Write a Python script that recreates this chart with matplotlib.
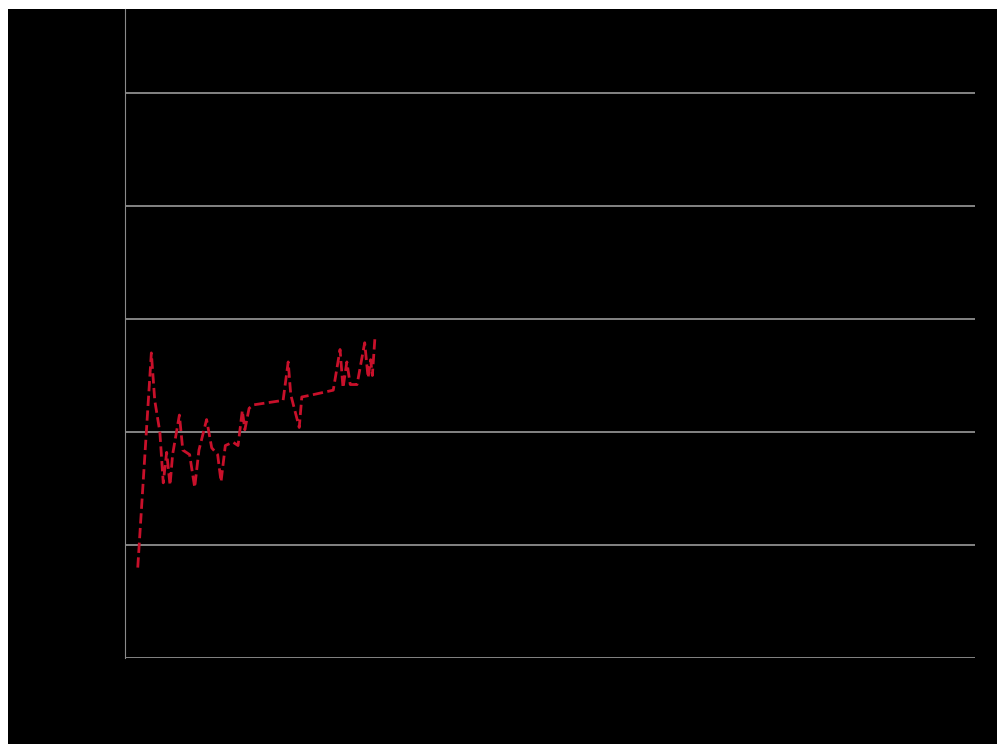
import numpy as np
import matplotlib.pyplot as plt
from matplotlib.patches import Rectangle

# red series (x in arbitrary units, y in grid units)
x_vals = [1.5, 3.1, 3.5, 4.1, 4.5, 4.9, 5.3, 5.6, 6.4, 6.8, 7.6, 8.2, 8.7, 9.6,
          10.2, 10.9, 11.3, 11.8, 12.7, 13.3, 13.8, 14.1, 14.6, 15.1, 18.6, 19.2,
          19.5, 20.5, 20.8, 22.1, 24.5, 25.3, 25.65, 26.1, 26.5, 27.3, 28.2,
          28.6, 28.9, 29.1, 29.4]
y_vals = [0.80, 2.70, 2.28, 2.00, 1.55, 1.82, 1.53, 1.80, 2.15, 1.84, 1.80, 1.51,
          1.84, 2.11, 1.86, 1.80, 1.56, 1.88, 1.91, 1.88, 2.19, 2.02, 2.21, 2.24,
          2.28, 2.62, 2.33, 2.04, 2.31, 2.33, 2.37, 2.73, 2.39, 2.62, 2.42, 2.42,
          2.79, 2.48, 2.64, 2.50, 2.83]

y_grid = [0, 1, 2, 3, 4, 5]

fig = plt.figure(figsize=(9.97, 7.44), dpi=100)
fig.patch.set_facecolor("white")
fig.patches.append(Rectangle((8/997, 0), 1, (744-9)/744, transform=fig.transFigure,
                             facecolor="black", edgecolor="none", zorder=-10))

ax = fig.add_axes([125/997, (744-658)/744, 850/997, (658-9)/744])
ax.set_facecolor("black")
ax.plot(x_vals, y_vals, color="#c8102a", linestyle="--", linewidth=2)

ax.set_xlim(0, 100)
ax.set_ylim(0, (658-9)/113)
ax.set_yticks(y_grid)
ax.grid(axis="y", color="#9a9a9a", linewidth=1.2)
ax.set_axisbelow(True)
ax.tick_params(length=0, colors="black", labelcolor="black")
for s in ["top", "right", "bottom"]:
    ax.spines[s].set_visible(False)
ax.spines["left"].set_color("#8a8a8a")
ax.spines["left"].set_linewidth(0.8)

plt.savefig("out.png", dpi=100, facecolor=fig.get_facecolor())
